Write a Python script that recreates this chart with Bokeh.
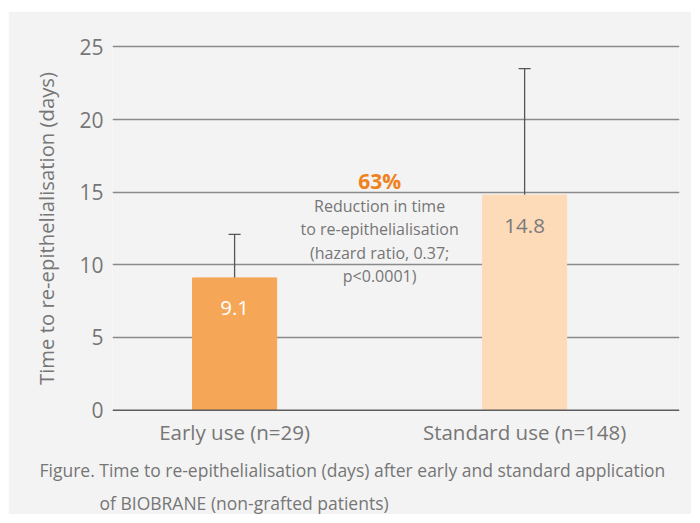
from bokeh.plotting import figure
from bokeh.models import ColumnDataSource, Whisker, TeeHead, FixedTicker, Title, Span
from bokeh.core.properties import value
from bokeh.embed import file_html
from bokeh.resources import INLINE

categories = ["Early use (n=29)", "Standard use (n=148)"]
positions = [1, 2]
means = [9.1, 14.8]
lower = [6.2, 6.15]
upper = [12.1, 23.5]
bar_colors = ["#f5a656", "#fddbb9"]
bar_label_colors = ["#ffffff", "#7a7a7a"]
y_ticks = [0, 5, 10, 15, 20, 25]
headline = "63%"
note_lines = ["Reduction in time", "to re-epithelialisation", "(hazard ratio, 0.37;", "p<0.0001)"]
note_y = [14.02, 12.45, 10.8, 9.22]
headline_y = 15.8
caption1 = "Figure. Time to re-epithelialisation (days) after early and standard application"
caption2 = "of BIOBRANE (non-grafted patients)"

FONT = "Open Sans"
GRAY = "#767676"
BG = "#f3f3f3"

p = figure(width=683, height=503, output_backend="svg", toolbar_location=None,
           x_range=(0.579, 2.534), y_range=(-0.3, 25.3),
           min_border_left=104, min_border_right=12, min_border_top=31, min_border_bottom=98)
p.margin = (11, 0, 0, 8)
p.background_fill_color = BG
p.border_fill_color = BG
p.outline_line_color = None

src = ColumnDataSource(dict(x=positions, top=means, lower=lower, upper=upper,
                            color=bar_colors, lbl=[str(m) for m in means],
                            lcol=bar_label_colors,
                            ly=[m - 2.1 for m in means]))

p.vbar(x="x", top="top", width=0.29, bottom=0, color="color", source=src)

zero = Span(location=0, dimension="width", line_color="#5e5e5e", line_width=1.5)
p.add_layout(zero)

w = Whisker(base="x", lower="lower", upper="upper", source=src,
            line_color="#555555", line_width=1.3,
            upper_head=TeeHead(size=12, line_color="#555555", line_width=1.3),
            lower_head=TeeHead(size=12, line_color="#555555", line_width=1.3))
p.add_layout(w)

p.text(x="x", y="ly", text="lbl", text_color="lcol", source=src,
       text_font=value(FONT), text_font_size="20.5px", text_align="center", text_baseline="middle")

p.text(x=[1.5], y=[headline_y], text=[headline], text_color="#f0821e",
       text_font=value(FONT), text_font_style="bold", text_font_size="21px",
       text_align="center", text_baseline="middle")
p.text(x=[1.5] * len(note_lines), y=note_y, text=note_lines, text_color=GRAY,
       text_font=value(FONT), text_font_size="16px",
       text_align="center", text_baseline="middle")

# axes
p.yaxis.ticker = FixedTicker(ticks=y_ticks)
p.yaxis.axis_line_color = None
p.yaxis.major_tick_line_color = None
p.yaxis.minor_tick_line_color = None
p.yaxis.major_label_text_font = FONT
p.yaxis.major_label_text_font_size = "21px"
p.yaxis.major_label_text_color = GRAY
p.yaxis.major_label_standoff = 3

ylab = Title(text="Time to re-epithelialisation (days)", text_font=FONT,
             text_font_size="20.3px", text_font_style="normal", text_color=GRAY,
             align="center", standoff=34, offset=4)
p.add_layout(ylab, "left")

p.xaxis.ticker = FixedTicker(ticks=positions)
p.xaxis.major_label_overrides = {pos: c for pos, c in zip(positions, categories)}
p.xaxis.axis_line_color = None
p.xaxis.major_tick_line_color = None
p.xaxis.minor_tick_line_color = None
p.xaxis.major_label_text_font = FONT
p.xaxis.major_label_text_font_size = "20.5px"
p.xaxis.major_label_text_color = GRAY
p.xaxis.major_label_standoff = -3

p.xgrid.grid_line_color = None
p.ygrid.grid_line_color = "#8a8a8a"
p.ygrid.grid_line_width = 1.5
p.ygrid.ticker = FixedTicker(ticks=[t for t in y_ticks if t != 0])

t1 = Title(text=caption1, text_font=FONT, text_font_size="17.5px", text_font_style="normal",
           text_color=GRAY, align="left", offset=-73, standoff=14)
t2 = Title(text=caption2, text_font=FONT, text_font_size="17.5px", text_font_style="normal",
           text_color=GRAY, align="left", offset=-13, standoff=0)
p.add_layout(t1, "below")
p.add_layout(t2, "below")

open("out.html", "w").write(file_html(p, INLINE))
